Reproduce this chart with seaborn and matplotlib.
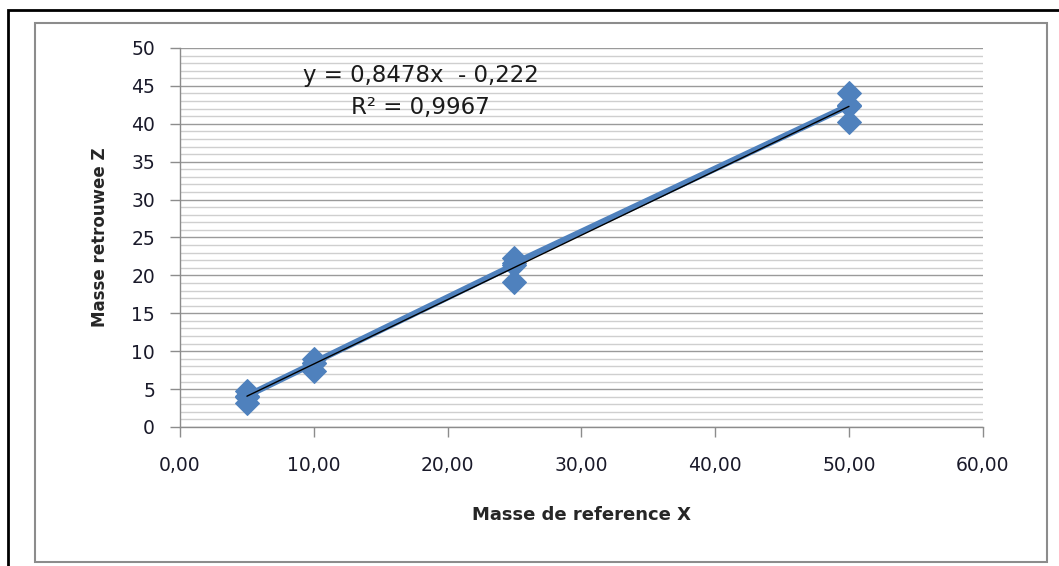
import seaborn as sns
import pandas as pd
import matplotlib.pyplot as plt
import numpy as np
from matplotlib.ticker import MultipleLocator, FuncFormatter
from matplotlib.patches import Rectangle

# masse de reference X (replicates per level) and masse retrouvee Z, in series order
masse_x = [5, 5, 5, 5, 10, 10, 10, 10, 25, 25, 25, 25, 50, 50, 50, 50]
masse_z = [4.0, 3.2, 4.8, 4.1, 8.4, 7.4, 9.0, 8.5, 21.4, 19.1, 22.3, 21.6, 42.4, 40.2, 44.0, 42.5]
equation = "y = 0,8478x  - 0,222"
r2_text = "R² = 0,9967"

df = pd.DataFrame({"x": masse_x, "z": masse_z})

sns.set_style("white")
plt.rcParams["font.family"] = ["DejaVu Sans"]

fig = plt.figure(figsize=(10.59, 5.66), dpi=100)
ax = fig.add_axes([0.170, 0.2456, 0.758, 0.6696])

blue = "#4F81BD"
sns.lineplot(data=df, x="x", y="z", ax=ax, color=blue, lw=4.5, estimator=None,
             sort=False, marker="D", markersize=12, markeredgecolor=blue, zorder=3)
sns.regplot(data=df, x="x", y="z", ax=ax, scatter=False, ci=None,
            line_kws={"color": "black", "lw": 1, "zorder": 4})

ax.set_xlim(0, 60)
ax.set_ylim(0, 50)
ax.xaxis.set_major_locator(MultipleLocator(10))
ax.yaxis.set_major_locator(MultipleLocator(5))
ax.yaxis.set_minor_locator(MultipleLocator(1))
ax.xaxis.set_major_formatter(FuncFormatter(lambda v, p: f"{v:.2f}".replace(".", ",")))
ax.grid(False)
ax.grid(axis="y", which="minor", color="#cfcfcf", lw=1)
ax.grid(axis="y", which="major", color="#9a9a9a", lw=1)
ax.set_axisbelow(True)

for s in ["top", "right"]:
    ax.spines[s].set_visible(False)
for s in ["left", "bottom"]:
    ax.spines[s].set_color("#8c8c8c")
    ax.spines[s].set_linewidth(1)
ax.tick_params(axis="both", which="major", direction="out", length=7, width=1,
               color="#8c8c8c", labelsize=13.5, labelcolor="#1a1a2a", left=True, bottom=True)
ax.tick_params(axis="y", which="minor", left=False)
ax.tick_params(axis="x", pad=14)
ax.tick_params(axis="y", pad=11)

ax.set_xlabel("Masse de reference X", fontsize=13, fontweight="bold", labelpad=22)
ax.set_ylabel("Masse retrouwee Z", fontsize=12, fontweight="bold", labelpad=16)

ax.text(18, 46.4, equation, ha="center", va="center", fontsize=16.5, color="#1a1a1a")
ax.text(18, 42.1, r2_text, ha="center", va="center", fontsize=16.5, color="#1a1a1a")

# chart frames
fig.patches.append(Rectangle((35 / 1059, 1 - 562 / 566), 1012 / 1059, 539 / 566,
                             transform=fig.transFigure, fill=False, ec="#8c8c8c", lw=1.5))
fig.patches.append(Rectangle((8 / 1059, -0.01), 1.1, 1 - 10 / 566 + 0.01,
                             transform=fig.transFigure, fill=False, ec="black", lw=2))

plt.savefig("out.png", dpi=100)
